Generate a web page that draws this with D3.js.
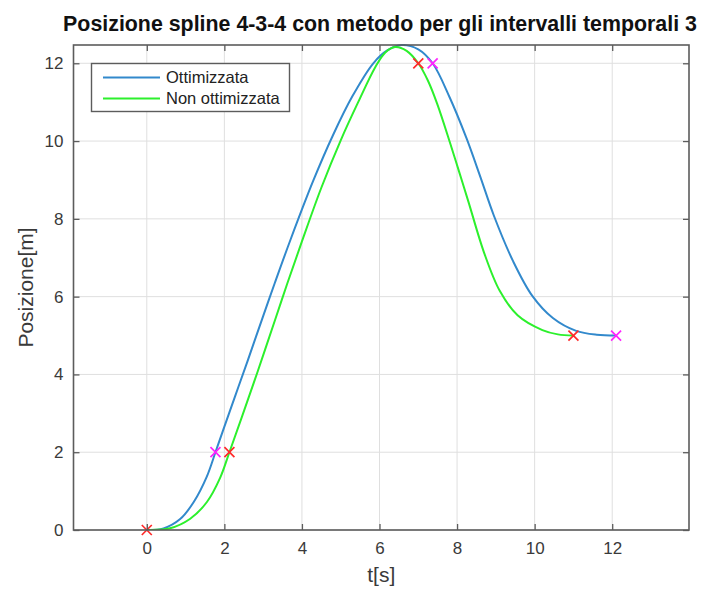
<!DOCTYPE html>
<html>
<head>
<meta charset="utf-8">
<script src="https://cdn.jsdelivr.net/npm/d3@7"></script>
<style>
  body { margin: 0; background: #fff; }
  svg { font-family: "Liberation Sans", Arial, Helvetica, sans-serif; }
</style>
</head>
<body>
<div id="chart"></div>
<script>
// valori
const tOtt = [0, 0.43, 0.86, 1.21, 1.55, 1.77, 1.98, 2.28, 2.6, 3.0, 3.3, 3.7, 4.3, 4.8, 5.3, 5.84, 6.2, 6.57, 7.0, 7.37, 7.81, 8.24, 8.6, 8.95, 9.45, 9.94, 10.47, 11.07, 11.6, 12.1];
const qOtt = [0, 0.04, 0.28, 0.72, 1.38, 2.0, 2.6, 3.45, 4.35, 5.5, 6.35, 7.45, 9.0, 10.15, 11.15, 12.0, 12.33, 12.47, 12.36, 12.0, 11.12, 10.08, 9.08, 8.08, 6.9, 6.02, 5.45, 5.12, 5.02, 5.0];

const tNon = [0, 0.6, 1.12, 1.55, 1.89, 2.13, 2.45, 2.85, 3.3, 3.62, 4.0, 4.5, 5.0, 5.45, 5.89, 6.15, 6.4, 6.7, 7.0, 7.25, 7.49, 7.82, 8.05, 8.29, 8.7, 9.1, 9.56, 10.2, 10.6, 11.0];
const qNon = [0, 0.045, 0.29, 0.72, 1.34, 2.0, 2.9, 4.05, 5.38, 6.33, 7.42, 8.8, 10.02, 11.0, 11.9, 12.28, 12.42, 12.32, 12.0, 11.55, 10.95, 9.95, 9.22, 8.45, 7.12, 6.15, 5.52, 5.14, 5.03, 5.0];

// punti di passaggio (x)
const nodiOtt = [[1.77, 2], [7.37, 12], [12.1, 5]];
const nodiNon = [[0, 0], [2.13, 2], [7.0, 12], [11.0, 5]];

const xTicks = [0, 2, 4, 6, 8, 10, 12];
const yTicks = [0, 2, 4, 6, 8, 10, 12];
const legenda = ["Ottimizzata", "Non ottimizzata"];

const W = 701, H = 590;
const m = {top: 45, right: 12, bottom: 60, left: 73.5};

const svg = d3.select("#chart").append("svg")
    .attr("width", W).attr("height", H);

const x = d3.scaleLinear().domain([-1.89, 13.98]).range([m.left, W - m.right]);
const y = d3.scaleLinear().domain([0, 12.47]).range([H - m.bottom, m.top]);

const x0 = m.left, x1 = W - m.right, y0 = H - m.bottom, y1 = m.top;

// griglia
const grid = svg.append("g");
grid.selectAll("line.gx").data(xTicks).join("line")
    .attr("x1", d => x(d)).attr("x2", d => x(d))
    .attr("y1", y1).attr("y2", y0)
    .attr("stroke", "#dfdfdf").attr("stroke-width", 1);
grid.selectAll("line.gy").data(yTicks).join("line")
    .attr("x1", x0).attr("x2", x1)
    .attr("y1", d => y(d)).attr("y2", d => y(d))
    .attr("stroke", "#dfdfdf").attr("stroke-width", 1);

// curve
svg.append("clipPath").attr("id", "clip")
    .append("rect").attr("x", x0).attr("y", y1 - 1).attr("width", x1 - x0).attr("height", y0 - y1 + 1);

const line = d3.line().x(d => x(d[0])).y(d => y(d[1])).curve(d3.curveCatmullRom.alpha(0.5));
const serie = [
  {t: tOtt, q: qOtt, col: "#3289cc"},
  {t: tNon, q: qNon, col: "#2cf02c"}
];
svg.append("g").attr("clip-path", "url(#clip)")
  .selectAll("path").data(serie).join("path")
    .attr("d", s => line(d3.zip(s.t, s.q)))
    .attr("fill", "none")
    .attr("stroke", s => s.col)
    .attr("stroke-width", 2);

// marcatori
function croci(punti, col) {
  const s = 5;
  svg.append("g").selectAll("path").data(punti).join("path")
      .attr("d", d => `M${x(d[0]) - s},${y(d[1]) - s}L${x(d[0]) + s},${y(d[1]) + s}M${x(d[0]) - s},${y(d[1]) + s}L${x(d[0]) + s},${y(d[1]) - s}`)
      .attr("stroke", col).attr("stroke-width", 1.7).attr("fill", "none");
}
croci(nodiOtt, "#ff22ff");
croci(nodiNon, "#ff2a2a");

// assi (tacche interne su tutti i lati)
const tick = 6;
const axCol = "#5c5c5c";
const ax = svg.append("g");
ax.append("g").attr("transform", `translate(0,${y0})`)
  .call(d3.axisBottom(x).tickValues(xTicks).tickSize(-tick).tickPadding(12))
  .call(g => g.select(".domain").remove());
ax.append("g").attr("transform", `translate(0,${y1})`)
  .call(d3.axisTop(x).tickValues(xTicks).tickSize(-tick).tickFormat(""))
  .call(g => g.select(".domain").remove());
ax.append("g").attr("transform", `translate(${x0},0)`)
  .call(d3.axisLeft(y).tickValues(yTicks).tickSize(-tick).tickPadding(10))
  .call(g => g.select(".domain").remove());
ax.append("g").attr("transform", `translate(${x1},0)`)
  .call(d3.axisRight(y).tickValues(yTicks).tickSize(-tick).tickFormat(""))
  .call(g => g.select(".domain").remove());
ax.selectAll(".tick line").attr("stroke", axCol).attr("stroke-width", 1.3);
ax.selectAll(".tick text").attr("fill", "#3a3a3a")
  .style("font-size", "17px").style("font-family", "Liberation Sans, Arial, sans-serif");

svg.append("rect").attr("x", x0).attr("y", y1).attr("width", x1 - x0).attr("height", y0 - y1)
  .attr("fill", "none").attr("stroke", axCol).attr("stroke-width", 1.6);

// etichette
svg.append("text").attr("x", (x0 + x1) / 2).attr("y", 582)
  .attr("text-anchor", "middle").attr("fill", "#3a3a3a").style("font-size", "21px")
  .text("t[s]");
svg.append("text").attr("transform", `translate(33,${(y0 + y1) / 2}) rotate(-90)`)
  .attr("text-anchor", "middle").attr("fill", "#3a3a3a").style("font-size", "21px")
  .text("Posizione[m]");

const titolo = svg.append("text").attr("x", 380).attr("y", 31)
  .attr("text-anchor", "middle").attr("fill", "#111").style("font-weight", "bold")
  .style("font-size", "19px")
  .text("Posizione spline 4-3-4 con metodo per gli intervalli temporali 3");
const lw = titolo.node().getComputedTextLength();
titolo.style("font-size", (19 * 634 / lw).toFixed(2) + "px");

// legenda
const leg = svg.append("g");
leg.append("rect").attr("x", 91.5).attr("y", 63.5).attr("width", 198).attr("height", 48)
  .attr("fill", "#fff").attr("stroke", axCol).attr("stroke-width", 1.4);
leg.selectAll("g.voce").data(legenda).join("g")
  .attr("transform", (d, i) => `translate(0,${77.5 + i * 21})`)
  .each(function(d, i) {
    const g = d3.select(this);
    g.append("line").attr("x1", 103).attr("x2", 160).attr("stroke", serie[i].col).attr("stroke-width", 2);
    g.append("text").attr("x", 166).attr("dy", "0.36em").attr("fill", "#222")
      .style("font-size", "16.5px").text(d);
  });
</script>
</body>
</html>
